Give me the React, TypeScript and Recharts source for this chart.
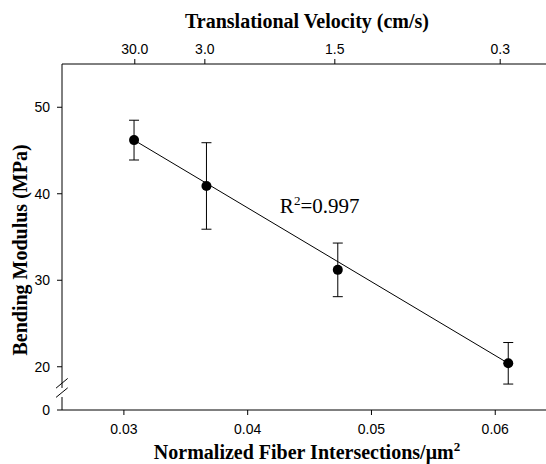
import { ComposedChart, Scatter, XAxis, YAxis, ErrorBar, ReferenceLine, ReferenceDot } from "recharts";

// measured points
const intersections = [0.03082, 0.03667, 0.04728, 0.06105];
const modulus = [46.2, 40.9, 31.2, 20.4];
const modulusErr = [2.3, 5.0, 3.1, 2.4];

// top axis (velocity) ticks, placed on the bottom scale
const velocityLabels = ["30.0", "3.0", "1.5", "0.3"];
const velocityAt = [0.03088, 0.03654, 0.04704, 0.0604];

const xTicks = [0.03, 0.04, 0.05, 0.06];
const yTicks = [15, 20, 30, 40, 50];
const yTickLabels = ["0", "20", "30", "40", "50"];

// linear fit
const fitX = [0.03082, 0.06105];
const fitY = [46.2, 20.4];

const points = intersections.map((x, i) => ({ x, y: modulus[i], err: modulusErr[i] }));
const fit = fitX.map((x, i) => ({ x, y: fitY[i] }));

const X_DOMAIN: [number, number] = [0.025, 0.0641];
const Y_DOMAIN: [number, number] = [15, 55];

const serif = "Liberation Serif, Times New Roman, serif";
const sans = "Liberation Sans, Arial, sans-serif";
const tick = { fill: "#000", fontSize: 14, fontFamily: sans };
const axisLine = { stroke: "#000", strokeWidth: 1 };

const Dot = (p: any) => <circle cx={p.cx} cy={p.cy} r={5} fill="#000" />;
const NoDot = () => null;

export default function App() {
  return (
    <div style={{ position: "absolute", left: 0, top: 0 }}>
      <ComposedChart width={546} height={464} margin={{ top: 0, right: 0, bottom: 0, left: 0 }}>
        <XAxis
          dataKey="x"
          type="number"
          domain={X_DOMAIN}
          ticks={xTicks}
          tickFormatter={(v: number) => v.toFixed(2)}
          allowDataOverflow
          height={54}
          tickSize={5}
          tickMargin={9}
          tick={tick}
          axisLine={axisLine}
          tickLine={axisLine}
          label={{
            content: ({ viewBox }: any) => (
              <text
                x={viewBox.x + viewBox.width / 2 + 3}
                y={viewBox.y + 49}
                textAnchor="middle"
                fontFamily={serif}
                fontWeight="bold"
                fontSize={20}
                fill="#000"
              >
                Normalized Fiber Intersections/μm
                <tspan dy={-8} fontSize={13}>2</tspan>
              </text>
            ),
          }}
        />
        <XAxis
          xAxisId="top"
          dataKey="x"
          orientation="top"
          type="number"
          domain={X_DOMAIN}
          ticks={velocityAt}
          tickFormatter={(v: number) => velocityLabels[velocityAt.indexOf(v)]}
          allowDataOverflow
          height={64}
          tickSize={5}
          tickMargin={5}
          tick={tick}
          axisLine={axisLine}
          tickLine={axisLine}
          label={{
            content: ({ viewBox }: any) => (
              <text
                x={viewBox.x + viewBox.width / 2 + 3}
                y={28}
                textAnchor="middle"
                fontFamily={serif}
                fontWeight="bold"
                fontSize={20}
                fill="#000"
              >
                Translational Velocity (cm/s)
              </text>
            ),
          }}
        />
        <YAxis
          type="number"
          domain={Y_DOMAIN}
          ticks={yTicks}
          tickFormatter={(v: number) => yTickLabels[yTicks.indexOf(v)]}
          allowDataOverflow
          width={62}
          tickSize={5}
          tickMargin={7}
          tick={tick}
          axisLine={false}
          tickLine={axisLine}
          label={{
            content: () => (
              <text
                x={27}
                y={250}
                transform="rotate(-90 27 250)"
                textAnchor="middle"
                fontFamily={serif}
                fontWeight="bold"
                fontSize={20}
                fill="#000"
              >
                Bending Modulus (MPa)
              </text>
            ),
          }}
        />

        {/* left axis line, broken between 0 and 20 */}
        <ReferenceLine segment={[{ x: 0.025, y: 15 }, { x: 0.025, y: 16.5 }]} stroke="#000" ifOverflow="visible" />
        <ReferenceLine segment={[{ x: 0.025, y: 17.55 }, { x: 0.025, y: 55 }]} stroke="#000" ifOverflow="visible" />
        <ReferenceLine
          segment={[{ x: 0.02452, y: 17.53 }, { x: 0.02546, y: 18.65 }]}
          stroke="#000"
          ifOverflow="visible"
        />
        <ReferenceLine
          segment={[{ x: 0.02452, y: 16.46 }, { x: 0.02546, y: 17.56 }]}
          stroke="#000"
          ifOverflow="visible"
        />

        <Scatter data={fit} dataKey="y" line={{ stroke: "#000", strokeWidth: 1 }} shape={NoDot} isAnimationActive={false} />
        <Scatter xAxisId="top" data={fit} dataKey="y" shape={NoDot} isAnimationActive={false} />
        <Scatter data={points} dataKey="y" shape={Dot} isAnimationActive={false}>
          <ErrorBar dataKey="err" direction="y" width={5} stroke="#000" strokeWidth={1} />
        </Scatter>

        <ReferenceDot
          x={0.0426}
          y={37.8}
          r={0}
          ifOverflow="visible"
          label={{
            content: ({ viewBox }: any) => (
              <text x={viewBox.x} y={viewBox.y} fontFamily={serif} fontSize={21} fill="#000">
                R<tspan dy={-8} fontSize={13}>2</tspan>
                <tspan dy={8}>=0.997</tspan>
              </text>
            ),
          }}
        />
      </ComposedChart>
    </div>
  );
}
